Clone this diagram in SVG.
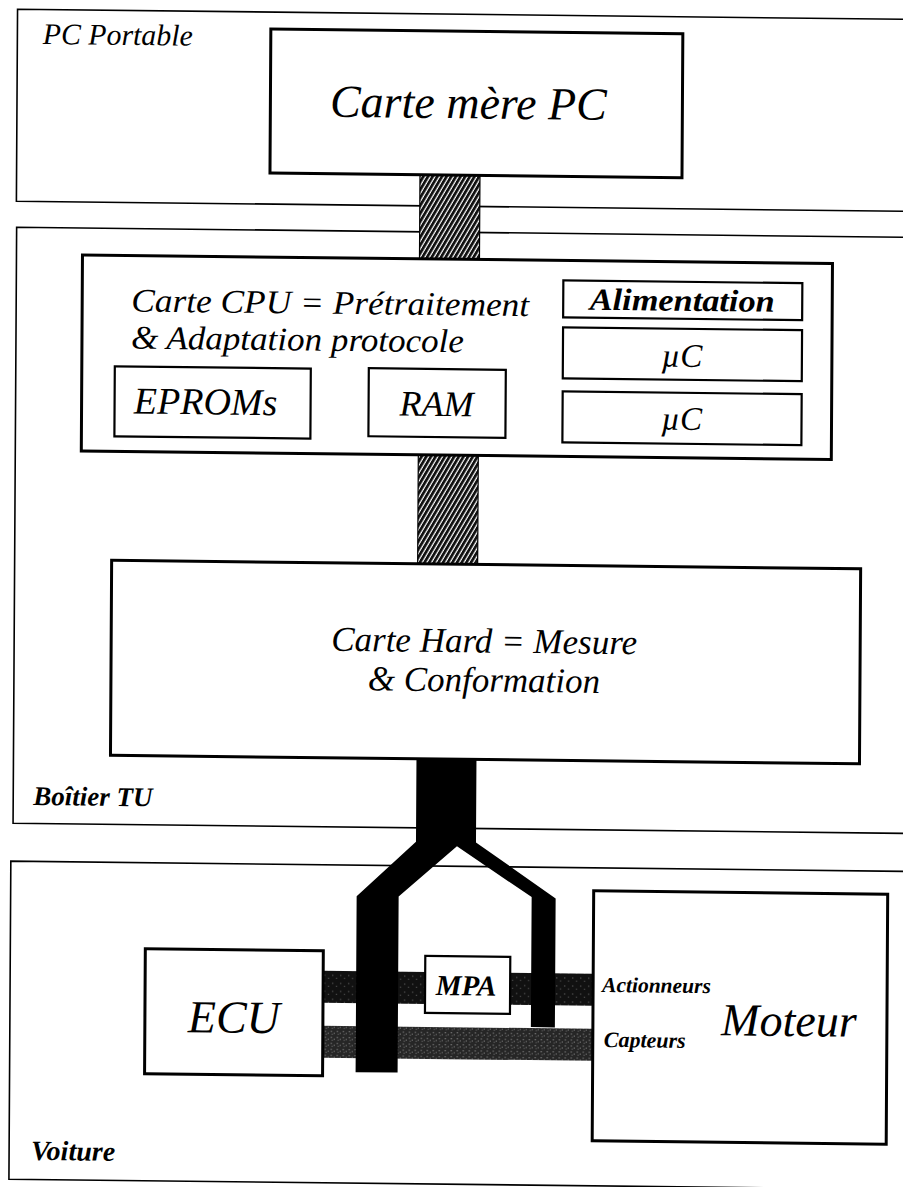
<svg xmlns="http://www.w3.org/2000/svg" width="903" height="1187" viewBox="0 0 903 1187">
<style>
.t{font-family:"Liberation Serif","Times New Roman",serif;font-style:italic;fill:#000}
.b{font-weight:bold}
.c{text-anchor:middle}
.cont{fill:none;stroke:#000;stroke-width:1.6}
.box{fill:#fff;stroke:#000;stroke-width:3}
.sub{fill:#fff;stroke:#000;stroke-width:2.2}
.hb{fill:url(#hatch);stroke:#000;stroke-width:1.2}
</style>
<defs>
<pattern id="hatch" width="4" height="4" patternUnits="userSpaceOnUse" patternTransform="rotate(30)">
<rect width="4" height="4" fill="#fff"/><rect width="2.8" height="4" fill="#111"/>
</pattern>
<pattern id="stip" width="6" height="6" patternUnits="userSpaceOnUse">
<rect width="6" height="6" fill="#262626"/><rect x="1" y="1" width="1" height="1" fill="#aaa"/><rect x="4" y="3" width="1" height="1" fill="#888"/><rect x="2" y="4" width="1" height="1" fill="#777"/>
</pattern>
<pattern id="stipd" width="8" height="8" patternUnits="userSpaceOnUse">
<rect width="8" height="8" fill="#111"/><rect x="2" y="3" width="1" height="1" fill="#777"/><rect x="6" y="6" width="1" height="1" fill="#666"/>
</pattern>
</defs>
<rect width="903" height="1187" fill="#fff"/>
<g transform="matrix(1,0.0114,-0.006,1,0,0)">
<g id="container-pc">
<path class="cont" d="M960,9 H17.6 V201 H960"/>
<text class="t" x="43" y="43.5" font-size="30" textLength="150" lengthAdjust="spacingAndGlyphs">PC Portable</text>
</g>
<g id="container-boitier">
<path class="cont" d="M960,227 H18 V823 H960"/>
<text class="t b" x="38" y="804.5" font-size="27">Boîtier TU</text>
</g>
<g id="container-voiture">
<path class="cont" d="M960,861 H16 V1179 H960"/>
<text class="t b" x="38" y="1159.5" font-size="28">Voiture</text>
</g>
<g id="connectors">
<rect class="hb" x="421" y="170" width="60" height="84"/>
<rect class="hb" x="421" y="450" width="60" height="109"/>
<rect x="329" y="967" width="270" height="32" fill="url(#stipd)"/>
<rect x="329" y="1022" width="270" height="32" fill="url(#stip)"/>
<path d="M421,754 L481,754 L481,837 L561,892 L561,1021 L537,1021 L537,891 L462,841 L404,892 L404,1068 L362,1068 L362,892 L421,837 Z" fill="#000"/>
</g>
<g id="node-cartemere">
<rect class="box" x="271" y="26" width="412" height="144"/>
<text class="t c" x="469" y="113" font-size="46">Carte mère PC</text>
</g>
<g id="node-cpu">
<rect class="box" x="84" y="254" width="750" height="196"/>
<text class="t" x="133" y="310" font-size="33" textLength="398" lengthAdjust="spacingAndGlyphs">Carte CPU = Prétraitement</text>
<text class="t" x="133" y="347" font-size="33" textLength="333" lengthAdjust="spacingAndGlyphs">&amp; Adaptation protocole</text>
</g>
<g id="node-alim">
<rect class="sub" x="565" y="274" width="239" height="37"/>
<text class="t b c" x="684" y="303" font-size="31" textLength="185" lengthAdjust="spacingAndGlyphs">Alimentation</text>
</g>
<g id="node-uc1">
<rect class="sub" x="565" y="321" width="239" height="51"/>
<text class="t c" x="684" y="359" font-size="33">µC</text>
</g>
<g id="node-uc2">
<rect class="sub" x="565" y="385" width="239" height="51"/>
<text class="t c" x="684" y="422" font-size="33">µC</text>
</g>
<g id="node-eproms">
<rect class="sub" x="117" y="365" width="196" height="70"/>
<text class="t c" x="208" y="412" font-size="38">EPROMs</text>
</g>
<g id="node-ram">
<rect class="sub" x="371" y="364" width="137" height="68"/>
<text class="t c" x="439" y="411" font-size="36">RAM</text>
</g>
<g id="node-hard">
<rect class="box" x="115" y="559" width="749" height="195"/>
<text class="t c" x="488" y="647" font-size="35">Carte Hard = Mesure</text>
<text class="t c" x="488" y="686" font-size="35">&amp; Conformation</text>
</g>
<g id="node-ecu">
<rect class="box" x="151" y="947" width="178" height="125"/>
<text class="t c" x="240" y="1030" font-size="46">ECU</text>
</g>
<g id="node-mpa">
<rect class="sub" x="431" y="951" width="85" height="57"/>
<text class="t b c" x="472" y="990" font-size="29">MPA</text>
</g>
<g id="node-moteur">
<rect class="box" x="599" y="884" width="294" height="250"/>
<text class="t c" x="795" y="1027" font-size="46">Moteur</text>
<text class="t b" x="608" y="985" font-size="21.5">Actionneurs</text>
<text class="t b" x="610" y="1040" font-size="22">Capteurs</text>
</g>
</g>
</svg>
